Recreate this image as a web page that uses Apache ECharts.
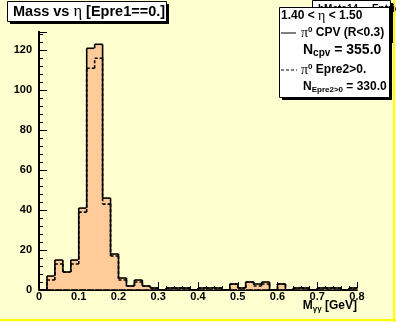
<!DOCTYPE html>
<html><head><meta charset="utf-8">
<script src="https://cdn.jsdelivr.net/npm/echarts@6/dist/echarts.min.js"></script>
<style>html,body{margin:0;padding:0;background:#ffffd0;}#c{width:396px;height:322px;}</style>
</head><body><div id="c"></div><script>
// bin lower edges (GeV), bin width 0.02
const binLow = [0,0.02,0.04,0.06,0.08,0.10,0.12,0.14,0.16,0.18,0.20,0.22,0.24,0.26,0.28,0.30,0.32,0.34,0.36,0.38,
                0.40,0.42,0.44,0.46,0.48,0.50,0.52,0.54,0.56,0.58,0.60,0.62,0.64,0.66,0.68,0.70,0.72,0.74,0.76,0.78];
const binWidth = 0.02;
// pi0 CPV (R<0.3) - solid, filled
const cpvCounts = [0,7,15,9,15,41,121,123,46,18,6,2,5,2,1,0,1,1,1,0,
                   1,1,1,0,3,1,4,3,4,0,3,0,1,1,0,1,1,1,0,1];
// pi0 Epre2>0 - dashed
const epreCounts = [0,5,13,9,13,39,111,116,43,17,5,2,4,2,1,0,1,1,1,0,
                    1,1,1,0,3,1,4,2,3,0,3,0,1,1,0,1,1,1,0,1];
const xTickLabels = ['0','0.1','0.2','0.3','0.4','0.5','0.6','0.7','0.8'];
const yTickLabels = ['0','20','40','60','80','100','120'];
const yMax = 129.15;

const FONT = 'Liberation Sans';
function rows(counts){
  return binLow.map((x,i)=>[x, +(x+binWidth).toFixed(2), counts[i], i>0?counts[i-1]:0]);
}
function histItem(fill, dashed){
  return function(params, api){
    const x0=api.value(0), x1=api.value(1), v=api.value(2), vp=api.value(3);
    const bl=api.coord([x0,0]), tr=api.coord([x1,v]), tl=api.coord([x0,v]), pp=api.coord([x0,vp]), br=api.coord([x1,0]);
    const ls={stroke:'#000', lineWidth:1.6, fill:null, lineDash: dashed?[3,2]:null};
    const ch=[];
    if(fill && v>0){
      ch.push({type:'rect', shape:{x:bl[0]-0.6, y:tr[1], width:tr[0]-bl[0]+1.2, height:bl[1]-tr[1]}, style:{fill:'#ffcc99'}});
      ch.push({type:'line', shape:{x1:bl[0],y1:bl[1],x2:br[0],y2:br[1]}, style:ls});
    }
    if(v!==vp) ch.push({type:'line', shape:{x1:tl[0],y1:pp[1],x2:tl[0],y2:tl[1]}, style:ls});
    if(v>0) ch.push({type:'line', shape:{x1:tl[0],y1:tl[1],x2:tr[0],y2:tr[1]}, style:ls});
    return {type:'group', children:ch};
  };
}
function mkRich(sz, subSz){
  return {
    b: {fontFamily:FONT, fontWeight:'bold', fontSize:sz, lineHeight:sz+2},
    g: {fontFamily:'Liberation Serif', fontSize:sz+2, lineHeight:sz+2},
    sup: {fontFamily:FONT, fontWeight:'bold', fontSize:subSz, lineHeight:subSz, verticalAlign:'top'},
    sub: {fontFamily:FONT, fontWeight:'bold', fontSize:subSz, lineHeight:subSz, verticalAlign:'bottom'}
  };
}
function rtext(x,y,text,z,sz,subSz,align){
  return {type:'text', x:x, y:y, z:z, style:{text:text, rich:mkRich(sz,subSz), fill:'#000', verticalAlign:'middle', align:align||'left'}};
}
function box(x,y,w,h,z){
  return [
    {type:'rect', z:z, shape:{x:x+3,y:y+3,width:w,height:h}, style:{fill:'#000'}},
    {type:'rect', z:z, shape:{x:x+0.5,y:y+0.5,width:w,height:h}, style:{fill:'#fff', stroke:'#000', lineWidth:1}}
  ];
}
const chart = echarts.init(document.getElementById('c'));
const graphics = [].concat(
  [{type:'rect', z:1, shape:{x:393,y:0,width:2,height:322}, style:{fill:'#ffff00'}},
   {type:'rect', z:1, shape:{x:0,y:319,width:396,height:2}, style:{fill:'#ffff00'}}],
  box(7,1,159,20,20),
  [rtext(13,11.5,'{b|Mass vs }{g|η}{b| [Epre1==0.]}',21,14.5,9)],
  box(312,0,78,40,30),
  [{type:'text', x:318, y:4, z:31, style:{text:'hMeta14     Entries', fill:'#000', font:'bold 10px '+FONT, verticalAlign:'top'}}],
  box(279,7,110,90,40),
  [rtext(281,16,'{b|1.40 < }{g|η}{b| < 1.50}',41,12,8),
   {type:'line', z:41, shape:{x1:281,y1:33,x2:296,y2:33}, style:{stroke:'#000', lineWidth:1}},
   rtext(301,33,'{g|π}{sup|0}{b| CPV (R<0.3)}',41,12,8),
   rtext(303,50,'{b|N}{sub|cpv}{b| = 355.0}',41,14,10),
   {type:'line', z:41, shape:{x1:281,y1:70,x2:297,y2:70}, style:{stroke:'#000', lineWidth:1, lineDash:[3,2]}},
   rtext(301,70,'{g|π}{sup|0}{b| Epre2>0.}',41,12,8),
   rtext(303,87,'{b|N}{sub|Epre2>0}{b| = 330.0}',41,12,8)],
  [rtext(357,306,'{b|M}{sub|γγ}{b| [GeV]}',5,12,8,'right')]
);
chart.setOption({
  backgroundColor:'#ffffd0',
  animation:false,
  grid:{left:39, right:39, top:32, bottom:32, show:false},
  xAxis:[{
    type:'value', min:0, max:0.8, interval:0.1, position:'bottom',
    axisLine:{show:true, lineStyle:{color:'#ffff00', width:2}},
    axisTick:{show:true, inside:true, length:8, lineStyle:{color:'#000', width:1}},
    minorTick:{show:true, splitNumber:5, length:4, lineStyle:{color:'#000', width:1}},
    splitLine:{show:false},
    axisLabel:{margin:1, color:'#000', fontFamily:FONT, fontWeight:'bold', fontSize:11,
      formatter:(v)=>xTickLabels[Math.round(v/0.1)]}
  },{
    type:'value', min:0, max:0.8, position:'top',
    axisLine:{show:true, lineStyle:{color:'#000', width:2}},
    axisTick:{show:false}, axisLabel:{show:false}, splitLine:{show:false}
  }],
  yAxis:[{
    type:'value', min:0, max:yMax, interval:20, position:'left',
    axisLine:{show:true, lineStyle:{color:'#000', width:2}},
    axisTick:{show:true, inside:true, length:8, lineStyle:{color:'#000', width:1}},
    minorTick:{show:true, splitNumber:5, length:4, lineStyle:{color:'#000', width:1}},
    splitLine:{show:false},
    axisLabel:{margin:7, color:'#000', fontFamily:FONT, fontWeight:'bold', fontSize:11, showMaxLabel:false,
      formatter:(v)=>{const k=Math.round(v/20); return (Math.abs(v-k*20)<1e-6 && k<yTickLabels.length)?yTickLabels[k]:'';}}
  },{
    type:'value', min:0, max:yMax, position:'right',
    axisLine:{show:true, lineStyle:{color:'#000', width:2}},
    axisTick:{show:false}, axisLabel:{show:false}, splitLine:{show:false}
  }],
  series:[
    {type:'custom', name:'cpv', xAxisIndex:0, yAxisIndex:0, renderItem:histItem(true,false), data:rows(cpvCounts), encode:{x:[0,1], y:2}},
    {type:'custom', name:'epre', xAxisIndex:0, yAxisIndex:0, renderItem:histItem(false,true), data:rows(epreCounts), encode:{x:[0,1], y:2}}
  ],
  graphic:{elements:graphics}
});
</script></body></html>
